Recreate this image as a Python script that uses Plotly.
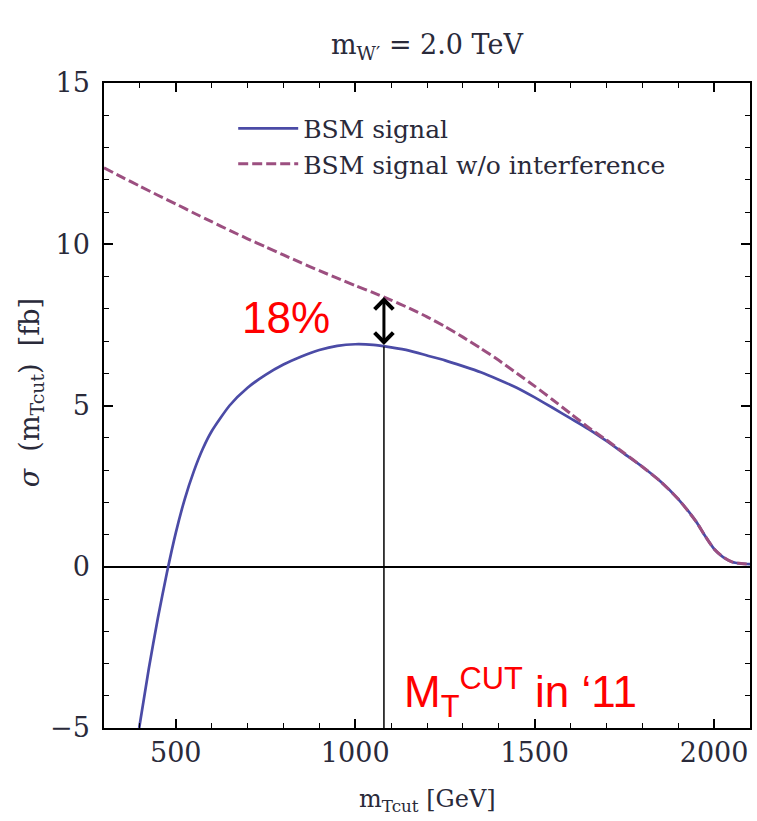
import numpy as np
import plotly.graph_objects as go

# ---------------- data ----------------
mt_signal = [398, 425, 450, 475, 500, 525, 550, 575, 600, 650, 700, 750, 800, 850, 900,
             950, 1000, 1050, 1100, 1150, 1200, 1250, 1300, 1350, 1400, 1450, 1500, 1550,
             1600, 1650, 1700, 1750, 1800, 1850, 1900, 1950, 1975, 2000, 2025, 2050, 2075, 2100]
sigma_signal = [-5.0, -3.15, -1.6, -0.2, 1.05, 2.1, 2.95, 3.65, 4.2, 5.0, 5.55, 5.95, 6.27, 6.52, 6.72,
                6.85, 6.9, 6.88, 6.8, 6.7, 6.55, 6.4, 6.22, 6.03, 5.8, 5.55, 5.25, 4.93,
                4.6, 4.27, 3.9, 3.5, 3.1, 2.65, 2.1, 1.4, 0.95, 0.55, 0.3, 0.15, 0.1, 0.08]

mt_noint = [300, 350, 400, 450, 500, 550, 600, 650, 700, 750, 800, 850, 900, 950, 1000,
            1050, 1100, 1150, 1200, 1250, 1300, 1350, 1400, 1450, 1500, 1550, 1600, 1650,
            1700, 1750, 1800, 1850, 1900, 1950, 1975, 2000, 2025, 2050, 2075, 2100]
sigma_noint = [12.37, 12.08, 11.8, 11.52, 11.25, 10.97, 10.7, 10.43, 10.17, 9.92, 9.67, 9.42, 9.18, 8.95, 8.72,
               8.5, 8.27, 8.02, 7.75, 7.45, 7.12, 6.77, 6.4, 6.0, 5.6, 5.18, 4.75, 4.32,
               3.93, 3.52, 3.1, 2.65, 2.1, 1.4, 0.95, 0.55, 0.3, 0.15, 0.1, 0.08]

MT_CUT_2011 = 1080          # GeV, vertical marker
GAP_LABEL = "18%"
x_ticks = [500, 1000, 1500, 2000]
y_ticks = [-5, 0, 5, 10, 15]
y_ticktext = ["−5", "0", "5", "10", "15"]
x_minor_step = 100
y_minor_step = 1
x_range = [300, 2100]
y_range = [-5, 15]

BLUE = "#4b4ba6"
PURPLE = "#9c4f80"
SERIF = "DejaVu Serif"
SANS = "Liberation Sans"
TXT = "#2a2a3a"

sig_at_cut = float(np.interp(MT_CUT_2011, mt_signal, sigma_signal))
noint_at_cut = float(np.interp(MT_CUT_2011, mt_noint, sigma_noint))

fig = go.Figure()
fig.add_trace(go.Scatter(x=mt_signal, y=sigma_signal, mode="lines", name="BSM signal",
                         line=dict(color=BLUE, width=2.7, shape="spline", smoothing=0.6)))
fig.add_trace(go.Scatter(x=mt_noint, y=sigma_noint, mode="lines", name="BSM signal w/o interference",
                         line=dict(color=PURPLE, width=3, dash="10px,4px", shape="spline", smoothing=0.6)))
fig.add_trace(go.Scatter(x=[MT_CUT_2011, MT_CUT_2011], y=[y_range[0], sig_at_cut], mode="lines",
                         line=dict(color="black", width=1.5), showlegend=False, hoverinfo="skip"))

tickfont = dict(family=SERIF, size=27, color=TXT)
in_style = dict(ticks="inside", ticklen=9, tickwidth=1.5, tickcolor="black", mirror="allticks", showgrid=False)
x_minor_in = dict(dtick=x_minor_step, ticks="inside", ticklen=5, tickwidth=1.2, tickcolor="black", showgrid=False)
y_minor_in = dict(dtick=y_minor_step, ticks="inside", ticklen=5, tickwidth=1.2, tickcolor="black", showgrid=False)

fig.update_layout(
    width=757, height=821,
    margin=dict(l=104, r=5, t=83, b=93),
    plot_bgcolor="white", paper_bgcolor="white",
    xaxis=dict(range=x_range, tickmode="array", tickvals=x_ticks, minor=x_minor_in,
               showline=True, linecolor="black", linewidth=1.5, zeroline=False,
               tickfont=tickfont, **in_style),
    yaxis=dict(range=y_range, tickmode="array", tickvals=y_ticks, ticktext=y_ticktext, minor=y_minor_in,
               showline=True, linecolor="black", linewidth=1.5,
               zeroline=True, zerolinecolor="black", zerolinewidth=1.5,
               tickfont=tickfont, ticklabelstandoff=7, **in_style),
    title=dict(text="m<sub>W′</sub> = 2.0 TeV", x=0.5, xref="paper", y=1 - 45 / 821, yanchor="middle",
               font=dict(family=SERIF, size=27, color=TXT)),
    legend=dict(x=0.2, y=0.965, xanchor="left", yanchor="top", bgcolor="rgba(0,0,0,0)",
                font=dict(family=SERIF, size=25, color=TXT), itemwidth=60, tracegroupgap=0),
    showlegend=True,
)

# axis titles
fig.add_annotation(text="m<sub>Tcut</sub> [GeV]", xref="paper", yref="paper", x=0.5, y=-0.112,
                   xanchor="center", showarrow=False, yanchor="middle",
                   font=dict(family=SERIF, size=24, color=TXT))
fig.add_annotation(text="<i>σ</i>\u00a0\u00a0(m<sub>Tcut</sub>)\u00a0\u00a0[fb]", xref="paper", yref="paper",
                   x=-0.113, y=0.519, xanchor="center", yanchor="middle",
                   showarrow=False, textangle=-90, font=dict(family=SERIF, size=27, color=TXT))

# double-headed arrow between curves at the cut
fig.add_annotation(x=MT_CUT_2011, y=noint_at_cut, ax=MT_CUT_2011, ay=sig_at_cut, xref="x", yref="y",
                   axref="x", ayref="y", showarrow=True, arrowside="end+start", arrowhead=4,
                   startarrowhead=4, arrowsize=1.2, startarrowsize=1.2, arrowwidth=3, arrowcolor="black",
                   standoff=0, startstandoff=0, text="")
fig.add_annotation(text=GAP_LABEL, xref="paper", yref="paper", x=0.281, y=0.636, xanchor="center",
                   yanchor="middle", showarrow=False, font=dict(family=SANS, size=44, color="#ff0000"))
fig.add_annotation(text="M<sub>T</sub><sup>CUT</sup> in ‘11", xref="paper", yref="paper", x=0.462, y=0.055,
                   xanchor="left", yanchor="middle", showarrow=False,
                   font=dict(family=SANS, size=44, color="#ff0000"))

fig.write_html("out.html")
